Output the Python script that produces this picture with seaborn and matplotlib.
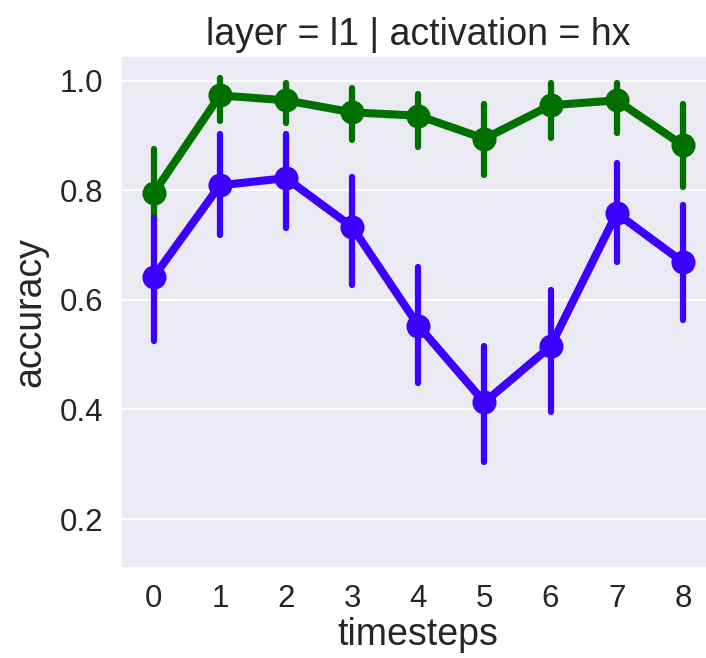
import numpy as np
import pandas as pd
import matplotlib
matplotlib.use("Agg")
import matplotlib.pyplot as plt
import seaborn as sns

timesteps = [0, 1, 2, 3, 4, 5, 6, 7, 8]

# mean accuracy per timestep and its confidence interval
green_mean = [0.795, 0.973, 0.964, 0.942, 0.936, 0.894, 0.955, 0.964, 0.882]
green_low = [0.750, 0.927, 0.922, 0.891, 0.878, 0.827, 0.896, 0.905, 0.805]
green_high = [0.876, 1.005, 0.996, 0.987, 0.976, 0.958, 0.996, 0.996, 0.958]

blue_mean = [0.642, 0.809, 0.822, 0.733, 0.553, 0.413, 0.515, 0.758, 0.669]
blue_low = [0.524, 0.718, 0.731, 0.627, 0.449, 0.305, 0.396, 0.669, 0.564]
blue_high = [0.749, 0.903, 0.903, 0.824, 0.660, 0.515, 0.618, 0.849, 0.773]

series_names = ["a", "b"]
colors = ["#007000", "#3c00ff"]

sns.set_theme(style="darkgrid")
plt.rcParams["font.family"] = ["Liberation Sans", "DejaVu Sans"]

df = pd.DataFrame({
    "timesteps": timesteps * 2,
    "accuracy": green_mean + blue_mean,
    "series": [series_names[0]] * 9 + [series_names[1]] * 9,
})

fig = plt.figure(figsize=(7.06, 6.58), dpi=100)
ax = fig.add_axes([0.171, 0.137, 0.843, 0.778])

sns.pointplot(data=df, x="timesteps", y="accuracy", hue="series",
              palette=colors, errorbar=None, markersize=13, linewidth=5.8,
              ax=ax, legend=False)

for lo, hi, c in [(green_low, green_high, colors[0]), (blue_low, blue_high, colors[1])]:
    ax.vlines(np.arange(len(timesteps)), lo, hi, color=c, linewidth=4.5,
              capstyle="round", zorder=1.5)

ax.set_ylim(0.111, 1.045)
ax.set_xlim(-0.5, 8.5)
ax.set_yticks([0.2, 0.4, 0.6, 0.8, 1.0])
ax.xaxis.grid(False)
ax.yaxis.grid(True, color="white", linewidth=1.5)
ax.tick_params(labelsize=22.5, colors="#262626", pad=6.5)
ax.tick_params(axis="x", pad=5.5)
ax.set_xlabel("timesteps", fontsize=27, color="#262626", labelpad=2)
ax.set_ylabel("accuracy", fontsize=27, color="#262626", labelpad=8)
ax.set_title("layer = l1 | activation = hx", fontsize=27, color="#262626", pad=8)

fig.savefig("out.png", dpi=100)
